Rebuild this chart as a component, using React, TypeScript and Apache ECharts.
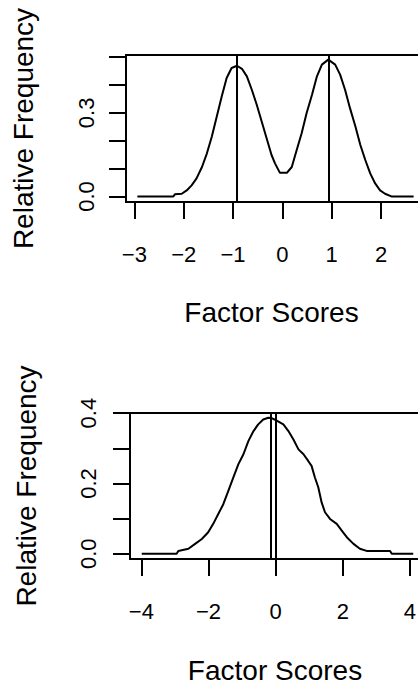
import React, { useEffect, useRef } from "react";
import * as echarts from "echarts";

// Top panel: bimodal density of factor scores
const topX = [-2.94, -2.21, -2.18, -2.04, -1.94, -1.84, -1.74, -1.63, -1.53, -1.43, -1.33, -1.23, -1.13, -1.03, -0.92, -0.82, -0.72, -0.62, -0.52, -0.42, -0.32, -0.22, -0.15, -0.05, 0.09, 0.19, 0.29, 0.39, 0.49, 0.6, 0.7, 0.8, 0.93, 1.07, 1.17, 1.27, 1.37, 1.48, 1.58, 1.68, 1.78, 1.88, 1.98, 2.08, 2.22, 2.66];
const topY = [0.0, 0.0, 0.008, 0.01, 0.022, 0.04, 0.065, 0.106, 0.155, 0.215, 0.287, 0.359, 0.425, 0.461, 0.469, 0.458, 0.431, 0.383, 0.329, 0.269, 0.209, 0.149, 0.119, 0.085, 0.085, 0.106, 0.167, 0.227, 0.299, 0.365, 0.431, 0.473, 0.491, 0.473, 0.437, 0.383, 0.317, 0.251, 0.185, 0.131, 0.083, 0.047, 0.022, 0.01, 0.0, 0.0];
const topLines = [-0.92, 0.94];
const topXTicks = [-3, -2, -1, 0, 1, 2, 3];
const topYTicks = [0, 0.1, 0.2, 0.3, 0.4, 0.5];
const topYLabels = [0, 0.3];

// Bottom panel: unimodal density of factor scores
const botX = [-3.99, -2.95, -2.9, -2.6, -2.4, -2.2, -2.01, -1.86, -1.71, -1.56, -1.41, -1.26, -1.11, -0.96, -0.81, -0.66, -0.52, -0.37, -0.22, -0.12, 0.03, 0.23, 0.38, 0.53, 0.68, 0.83, 0.97, 1.07, 1.17, 1.27, 1.37, 1.47, 1.62, 1.82, 1.97, 2.12, 2.32, 2.51, 2.71, 3.41, 3.46, 4.1];
const botY = [0.0, 0.0, 0.008, 0.014, 0.028, 0.042, 0.061, 0.085, 0.113, 0.141, 0.179, 0.217, 0.255, 0.283, 0.321, 0.349, 0.368, 0.382, 0.387, 0.386, 0.379, 0.368, 0.349, 0.325, 0.297, 0.283, 0.264, 0.25, 0.217, 0.189, 0.146, 0.118, 0.099, 0.085, 0.066, 0.047, 0.028, 0.014, 0.008, 0.008, 0.0, 0.0];
const botLines = [-0.15, -0.01];
const botXTicks = [-4, -2, 0, 2, 4];
const botYTicks = [0, 0.1, 0.2, 0.3, 0.4];
const botYLabels = [0, 0.2, 0.4];

const xTitle = "Factor Scores";
const yTitle = "Relative Frequency";

const FONT = "'Liberation Sans', Arial, sans-serif";
const minus = (s: string) => s.replace("-", "\u2212");

export default function App() {
  const ref = useRef<HTMLDivElement>(null);
  useEffect(() => {
    if (!ref.current) return;
    const chart = echarts.init(ref.current, undefined, { renderer: "svg" });

    const xAxisBase = (gridIndex: number, min: number, max: number, ticks: number[], nameGap: number, shift: number) => ({
      type: "value",
      gridIndex,
      min,
      max,
      name: xTitle,
      nameLocation: "middle",
      nameGap,
      nameTextStyle: { fontFamily: FONT, fontSize: 28, color: "#000", padding: [0, shift, 0, 0] },
      axisLine: { show: false, onZero: false },
      splitLine: { show: false },
      axisTick: { show: true, length: 17, customValues: ticks, lineStyle: { color: "#000", width: 2 } },
      axisLabel: {
        show: true,
        customValues: ticks,
        margin: 41,
        fontFamily: FONT,
        fontSize: 22,
        color: "#000",
        formatter: (v: number) => minus(String(v)),
      },
    });

    const yAxisBase = (gridIndex: number, min: number, max: number, ticks: number[], labels: number[], nameGap: number, margin: number) => ({
      type: "value",
      gridIndex,
      min,
      max,
      name: yTitle,
      nameLocation: "middle",
      nameRotate: 90,
      nameGap,
      nameTextStyle: { fontFamily: FONT, fontSize: 28, color: "#000" },
      axisLine: { show: false, onZero: false },
      splitLine: { show: false },
      axisTick: { show: true, length: 17, customValues: ticks, lineStyle: { color: "#000", width: 2 } },
      axisLabel: {
        show: true,
        customValues: labels,
        rotate: 90,
        margin,
        fontFamily: FONT,
        fontSize: 22,
        color: "#000",
        formatter: (v: number) => v.toFixed(1),
      },
    });

    const lineSeries = (idx: number, xs: number[], ys: number[], vlines: number[]) => ({
      type: "line",
      xAxisIndex: idx,
      yAxisIndex: idx,
      data: xs.map((x, i) => [x, ys[i]]),
      showSymbol: false,
      symbol: "none",
      lineStyle: { color: "#000", width: 2 },
      silent: true,
      markLine: {
        silent: true,
        symbol: ["none", "none"],
        label: { show: false },
        lineStyle: { color: "#000", width: 2, type: "solid" },
        data: vlines.map((v) => ({ xAxis: v })),
      },
    });

    chart.setOption({
      animation: false,
      backgroundColor: "#fff",
      grid: [
        { left: 126, top: 55, width: 298, height: 147, show: true, borderColor: "#000", borderWidth: 2, backgroundColor: "transparent", outerBoundsMode: "none" },
        { left: 130, top: 413, width: 296, height: 146, show: true, borderColor: "#000", borderWidth: 2, backgroundColor: "transparent", outerBoundsMode: "none" },
      ],
      xAxis: [
        xAxisBase(0, -3.17, 2.87, topXTicks, 96, 7),
        xAxisBase(1, -4.34, 4.48, botXTicks, 97, 6),
      ],
      yAxis: [
        yAxisBase(0, -0.0195, 0.5075, topYTicks, topYLabels, 89, 29),
        yAxisBase(1, -0.015, 0.4004, botYTicks, botYLabels, 90, 31),
      ],
      series: [lineSeries(0, topX, topY, topLines), lineSeries(1, botX, botY, botLines)],
    });

    return () => chart.dispose();
  }, []);

  return (
    <div style={{ position: "absolute", left: 0, top: 0, width: 418, height: 684, overflow: "hidden", background: "#fff" }}>
      <div ref={ref} style={{ width: 440, height: 684 }} />
    </div>
  );
}
